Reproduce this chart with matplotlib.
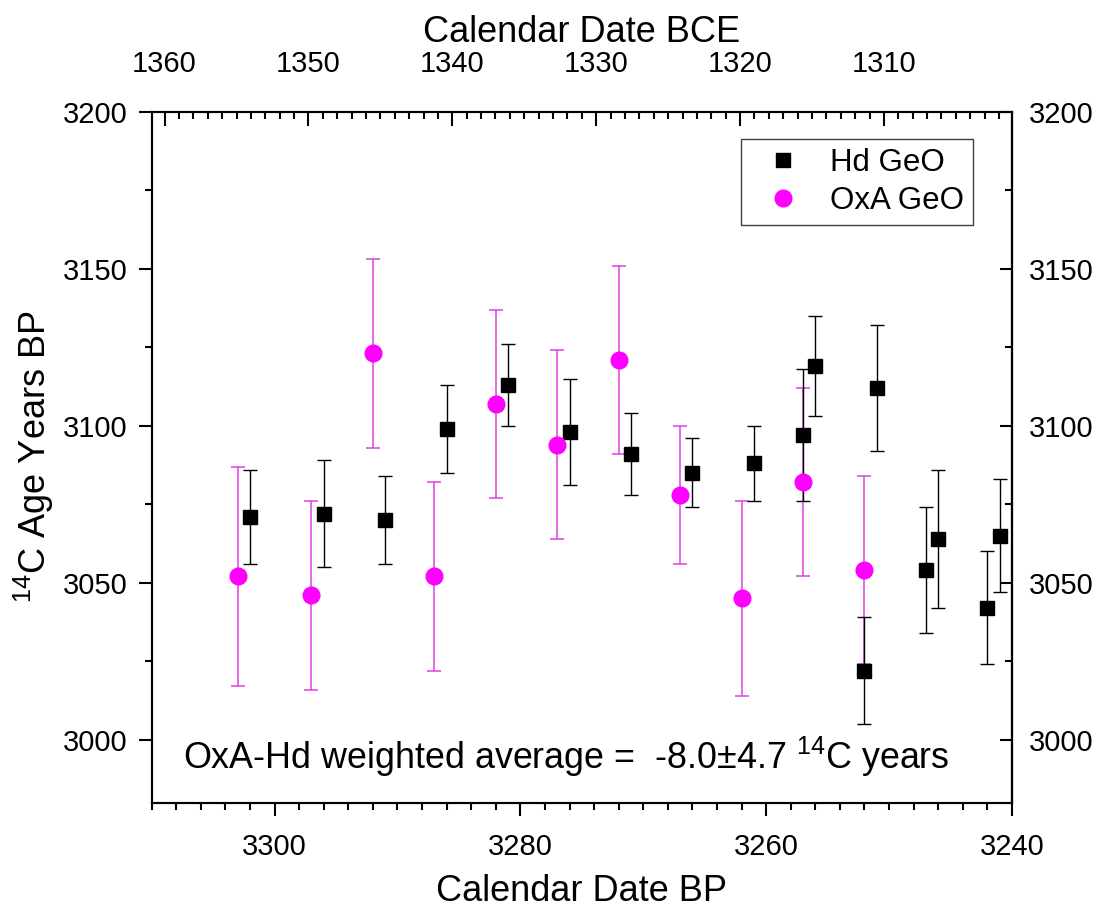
import matplotlib
matplotlib.use("Agg")
import matplotlib.pyplot as plt
from matplotlib.ticker import MultipleLocator

plt.rcParams['font.family'] = ['Liberation Sans', 'DejaVu Sans']
plt.rcParams['mathtext.fontset'] = 'custom'
plt.rcParams['mathtext.rm'] = 'Liberation Sans'

# Hd GeO measurements
bp_hd = [3302, 3296, 3291, 3286, 3281, 3276, 3271, 3266, 3261, 3257, 3256,
         3251, 3252, 3247, 3246, 3242, 3241]
c14_hd = [3071, 3072, 3070, 3099, 3113, 3098, 3091, 3085, 3088, 3097, 3119,
          3112, 3022, 3054, 3064, 3042, 3065]
err_hd = [15, 17, 14, 14, 13, 17, 13, 11, 12, 21, 16, 20, 17, 20, 22, 18, 18]

# OxA GeO measurements
bp_oxa = [3303, 3297, 3292, 3287, 3282, 3277, 3272, 3267, 3262, 3257, 3252]
c14_oxa = [3052, 3046, 3123, 3052, 3107, 3094, 3121, 3078, 3045, 3082, 3054]
err_oxa = [35, 30, 30, 30, 30, 30, 30, 22, 31, 30, 30]

bp_lim = (3310, 3240)
bce_lim = (1360.9, 1301.1)
c14_lim = (2980, 3200)

magenta = '#FF00FF'

fig = plt.figure(figsize=(10.99, 9.09), dpi=100)
ax = fig.add_axes([0.138, 0.117, 0.7828, 0.7602])

# error bars first, symbols on top
ax.errorbar(bp_oxa, c14_oxa, yerr=err_oxa, fmt='none', ecolor='#E040E0',
            elinewidth=1.1, capsize=5, capthick=1.1, zorder=2)
ax.errorbar(bp_hd, c14_hd, yerr=err_hd, fmt='none', ecolor='black',
            elinewidth=1.0, capsize=5, capthick=1.0, zorder=2)
h1, = ax.plot(bp_hd, c14_hd, 's', color='black', ms=10.5, ls='none',
              zorder=3, label='Hd GeO')
h2, = ax.plot(bp_oxa, c14_oxa, 'o', color=magenta, ms=12, ls='none',
              zorder=4, label='OxA GeO')

ax.set_xlim(bp_lim)
ax.set_ylim(c14_lim)
ax.xaxis.set_major_locator(MultipleLocator(20))
ax.xaxis.set_minor_locator(MultipleLocator(2))
ax.yaxis.set_major_locator(MultipleLocator(50))
ax.yaxis.set_minor_locator(MultipleLocator(25))
ax.tick_params(which='both', direction='out', width=1.5, labelsize=21)
ax.tick_params(which='major', length=9.5)
ax.tick_params(which='minor', length=5)
ax.tick_params(axis='x', pad=12.5)
ax.tick_params(axis='y', pad=8)
for sp in ax.spines.values():
    sp.set_linewidth(1.5)

ax.set_xlabel('Calendar Date BP', fontsize=26, labelpad=9.5)
ax.set_ylabel(r'$\mathregular{^{14}}$C Age Years BP', fontsize=26, labelpad=4.5)

# top axis: calendar BCE
top = ax.twiny()
top.set_xlim(bce_lim)
top.xaxis.set_major_locator(MultipleLocator(10))
top.xaxis.set_minor_locator(MultipleLocator(1))
top.tick_params(which='both', direction='in', width=1.5, labelsize=21, pad=24)
top.tick_params(which='major', length=10)
top.tick_params(which='minor', length=5)
top.set_xlabel('Calendar Date BCE', fontsize=26, labelpad=6)
for sp in top.spines.values():
    sp.set_linewidth(1.5)

# right axis mirrors the 14C scale
right = ax.secondary_yaxis('right', functions=(lambda y: y, lambda y: y))
right.yaxis.set_major_locator(MultipleLocator(50))
right.yaxis.set_minor_locator(MultipleLocator(25))
right.tick_params(which='both', direction='in', width=1.5, labelsize=21, pad=12)
right.tick_params(which='major', length=9)
right.tick_params(which='minor', length=5)
right.spines['right'].set_linewidth(1.5)

leg = ax.legend(handles=[h1, h2], loc='upper right', bbox_to_anchor=(0.955, 0.961),
                borderaxespad=0, fontsize=22.5, frameon=True, fancybox=False,
                edgecolor='#404040', framealpha=1, handlelength=2.05,
                handletextpad=0.48, labelspacing=0.25, borderpad=0.3)
leg.get_frame().set_linewidth(1.0)

ax.text(0.036, 0.066, r'OxA-Hd weighted average =  -8.0$\pm$4.7 $\mathregular{^{14}}$C years',
        transform=ax.transAxes, fontsize=25.8, va='center', ha='left')

fig.savefig('out.png', dpi=100)
